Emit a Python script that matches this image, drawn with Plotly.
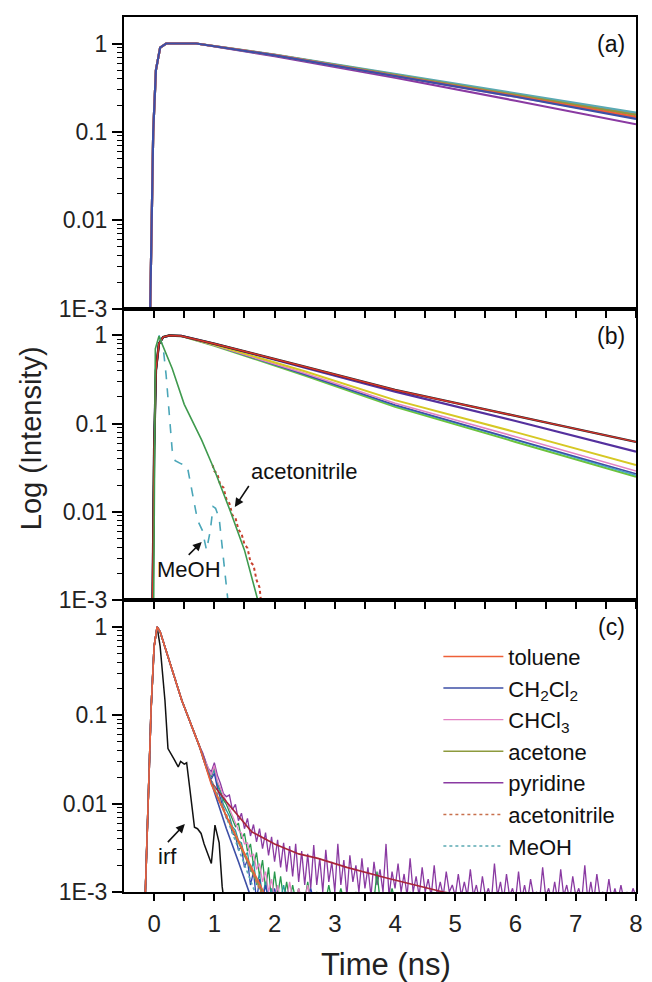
import plotly.graph_objects as go

FONT = "Liberation Sans, Arial, Helvetica, sans-serif"

# ---------------- legend / solvent info ----------------
SOLVENT_NAMES = ["toluene", "CH<sub>2</sub>Cl<sub>2</sub>", "CHCl<sub>3</sub>", "acetone",
                 "pyridine", "acetonitrile", "MeOH"]
SOLVENT_COLORS = ["#ee6038", "#3d4fa6", "#e283c4", "#8d9a3e", "#8a3aa2", "#c8704c", "#5aa9b2"]

# ---------------- panel (a) ----------------
T_A = [-0.08, -0.065, -0.04, -0.015, 0.03, 0.1, 0.2, 0.7, 2.0, 4.0, 6.0, 8.0]
A_TOLUENE = [0.0005, 0.001, 0.01, 0.1, 0.5, 0.9, 1.0, 1.0, 0.74, 0.43, 0.255, 0.148]
A_CH2CL2 = [0.0005, 0.001, 0.01, 0.1, 0.5, 0.9, 1.0, 1.0, 0.735, 0.425, 0.25, 0.14]
A_CHCL3 = [0.0005, 0.001, 0.01, 0.1, 0.5, 0.9, 1.0, 1.0, 0.74, 0.43, 0.25, 0.145]
A_ACETONE = [0.0005, 0.001, 0.01, 0.1, 0.5, 0.9, 1.0, 1.0, 0.745, 0.44, 0.26, 0.155]
A_PYRIDINE = [0.0005, 0.001, 0.01, 0.1, 0.5, 0.9, 1.0, 1.0, 0.72, 0.41, 0.225, 0.122]
A_ACETONITRILE = [0.0005, 0.001, 0.01, 0.1, 0.5, 0.9, 1.0, 1.0, 0.745, 0.445, 0.265, 0.16]
A_MEOH = [0.0005, 0.001, 0.01, 0.1, 0.5, 0.9, 1.0, 1.0, 0.75, 0.45, 0.27, 0.165]

# ---------------- panel (b) ----------------
T_B = [-0.03, -0.015, 0.0, 0.03, 0.08, 0.15, 0.25, 0.45, 1.0, 2.5, 4.0, 6.0, 8.0]
B_TOLUENE = [0.0005, 0.003, 0.05, 0.4, 0.8, 0.95, 0.99, 0.98, 0.8, 0.44, 0.24, 0.122, 0.062]
B_PYRIDINE = [0.0005, 0.003, 0.05, 0.4, 0.8, 0.95, 0.99, 0.98, 0.8, 0.43, 0.23, 0.107, 0.048]
B_ACETONE = [0.0005, 0.003, 0.05, 0.4, 0.8, 0.95, 0.99, 0.98, 0.78, 0.39, 0.184, 0.08, 0.034]
B_CHCL3 = [0.0005, 0.003, 0.05, 0.4, 0.8, 0.95, 0.99, 0.98, 0.77, 0.37, 0.17, 0.071, 0.029]
B_CH2CL2 = [0.0005, 0.003, 0.05, 0.4, 0.8, 0.95, 0.99, 0.98, 0.77, 0.36, 0.162, 0.066, 0.027]
B_DATA_GREEN = [0.0005, 0.003, 0.05, 0.4, 0.8, 0.95, 0.99, 0.98, 0.76, 0.35, 0.155, 0.062, 0.025]
B_DATA_TEAL = [0.0005, 0.003, 0.05, 0.4, 0.8, 0.95, 0.99, 0.98, 0.77, 0.36, 0.16, 0.065, 0.026]

T_B_FAST = [-0.01, 0.0, 0.005, 0.02, 0.08, 0.3, 0.5, 0.79, 1.0, 1.27, 1.5, 1.73, 1.76]
B_FAST_FIT = [0.0005, 0.01, 0.1, 0.7, 0.97, 0.42, 0.165, 0.065, 0.03, 0.01, 0.0037, 0.001, 0.0008]

T_B_ACN = [0.97, 1.0, 1.05, 1.1, 1.15, 1.2, 1.25, 1.3, 1.35, 1.4, 1.45, 1.5, 1.55, 1.6,
           1.65, 1.7, 1.75, 1.78]
B_ACN = [0.034, 0.029, 0.027, 0.020, 0.019, 0.014, 0.0125, 0.0092, 0.0086, 0.0063, 0.0057,
         0.0043, 0.0039, 0.0027, 0.0025, 0.0017, 0.0014, 0.0009]

T_B_MEOH = [0.08, 0.15, 0.2, 0.25, 0.3, 0.35, 0.45, 0.55, 0.62, 0.72, 0.8, 0.87, 0.93, 0.98,
            1.02, 1.08, 1.15, 1.24]
B_MEOH = [1.0, 0.73, 0.35, 0.12, 0.05, 0.038, 0.035, 0.033, 0.018, 0.0081, 0.0062, 0.0037,
          0.006, 0.0115, 0.011, 0.0085, 0.003, 0.0008]

# ---------------- panel (c) ----------------
T_C_EARLY = [-0.15, -0.1, -0.05, 0.0, 0.05, 0.1, 0.46, 0.75]
C_EARLY = [0.0008, 0.012, 0.12, 0.6, 1.0, 0.88, 0.147, 0.045]

T_C_TOL_TAIL = [0.95, 1.2, 1.5, 1.85]
C_TOL_TAIL = [0.0165, 0.0072, 0.0028, 0.0009]
T_C_CH2_TAIL = [0.95, 1.2, 1.4, 1.6]
C_CH2_TAIL = [0.0175, 0.0052, 0.0022, 0.0009]
T_C_ACE_TAIL = [0.95, 1.25, 1.55, 1.85]
C_ACE_TAIL = [0.0175, 0.006, 0.0022, 0.0008]
T_C_ACN_TAIL = [0.95, 1.2, 1.5, 1.8]
C_ACN_TAIL = [0.0185, 0.0075, 0.0027, 0.0009]
T_C_MEOH_TAIL = [0.95, 1.2, 1.45, 1.7]
C_MEOH_TAIL = [0.018, 0.007, 0.0025, 0.0009]

T_C_LONGFIT = [0.95, 1.2, 1.41, 1.62, 2.0, 2.4, 2.72, 3.2, 3.86, 4.8, 5.0]
C_LONGFIT = [0.0175, 0.0105, 0.0071, 0.0048, 0.0035, 0.0027, 0.0024, 0.0019, 0.00144, 0.001, 0.00095]

T_C_NOISE = [
    0.80, 0.85, 0.90, 0.95, 1.00, 1.05, 1.10, 1.15, 1.20, 1.25,
    1.30, 1.35, 1.40, 1.45, 1.50, 1.55, 1.60, 1.65, 1.70, 1.75,
    1.80, 1.85, 1.90, 1.95, 2.00, 2.05, 2.10, 2.15, 2.20, 2.25,
    2.30, 2.35, 2.40, 2.45, 2.50, 2.55, 2.60, 2.65, 2.70, 2.75,
    2.80, 2.85, 2.90, 2.95, 3.00, 3.05, 3.10, 3.15, 3.20, 3.25,
    3.30, 3.35, 3.40, 3.45, 3.50, 3.55, 3.60, 3.65, 3.70, 3.75,
    3.80, 3.85, 3.90, 3.95, 4.00, 4.05, 4.10, 4.15, 4.20, 4.25,
    4.30, 4.35, 4.40, 4.45, 4.50, 4.55, 4.60, 4.65, 4.70, 4.75,
    4.80, 4.85, 4.90, 4.95, 5.00, 5.05, 5.10, 5.15, 5.20, 5.25,
    5.30, 5.35, 5.40, 5.45, 5.50, 5.55, 5.60, 5.65, 5.70, 5.75,
    5.80, 5.85, 5.90, 5.95, 6.00, 6.05, 6.10, 6.15, 6.20, 6.25,
    6.30, 6.35, 6.40, 6.45, 6.50, 6.55, 6.60, 6.65, 6.70, 6.75,
    6.80, 6.85, 6.90, 6.95, 7.00, 7.05, 7.10, 7.15, 7.20, 7.25,
    7.30, 7.35, 7.40, 7.45, 7.50, 7.55, 7.60, 7.65, 7.70, 7.75,
    7.80, 7.85, 7.90, 7.95, 8.00]

C_PYR_NOISE = [
    0.038, 0.030, 0.025, 0.023, 0.029, 0.021, 0.017, 0.013, 0.012, 0.0125,
    0.0085, 0.0098, 0.0064, 0.0078, 0.0052, 0.0068, 0.0043, 0.0058, 0.0037, 0.0052,
    0.0031, 0.0047, 0.0026, 0.0042, 0.0022, 0.0039, 0.0019, 0.0036, 0.0017, 0.0033,
    0.0015, 0.0035, 0.0013, 0.0029, 0.0012, 0.0027, 0.0011, 0.0034, 0.0012, 0.0024,
    0.0010, 0.0030, 0.0013, 0.0022, 0.0010, 0.0035, 0.0012, 0.0023, 0.0009, 0.0026,
    0.0013, 0.0020, 0.0010, 0.0024, 0.0011, 0.0019, 0.0009, 0.0022, 0.0012, 0.0018,
    0.0010, 0.0035, 0.0009, 0.0017, 0.0011, 0.0021, 0.0010, 0.0016, 0.0009, 0.0024,
    0.0010, 0.0015, 0.0009, 0.0019, 0.0010, 0.0014, 0.0009, 0.0020, 0.0009, 0.0013,
    0.0009, 0.0017, 0.0010, 0.0012, 0.0009, 0.0016, 0.0009, 0.0013, 0.0009, 0.0018,
    0.0009, 0.0012, 0.0008, 0.0015, 0.0009, 0.0011, 0.0008, 0.0021, 0.0009, 0.0013,
    0.0008, 0.0016, 0.0009, 0.0011, 0.0008, 0.0017, 0.0008, 0.0012, 0.0008, 0.0014,
    0.0009, 0.0010, 0.0008, 0.0019, 0.0009, 0.0011, 0.0008, 0.0013, 0.0008, 0.0018,
    0.0009, 0.0012, 0.0008, 0.0015, 0.0009, 0.0011, 0.0008, 0.0020, 0.0008, 0.0013,
    0.0008, 0.0016, 0.0009, 0.0010, 0.0008, 0.0014, 0.0008, 0.0011, 0.0008, 0.0012,
    0.0008, 0.0010, 0.0008, 0.0011, 0.0009]

C_GREEN_NOISE = [
    0.036, 0.028, 0.024, 0.020, 0.025, 0.017, 0.014, 0.011, 0.0098, 0.0082,
    0.0068, 0.0055, 0.0060, 0.0040, 0.0046, 0.0029, 0.0035, 0.0020, 0.0028, 0.0015,
    0.0023, 0.0011, 0.0019, 0.0008, 0.0017, 0.0009, 0.0015, 0.0008, 0.0013, 0.0008,
    0.0012, 0.0008, 0.0011, 0.0008, 0.0008, 0.0013, 0.0008, 0.0008, 0.0010, 0.0008,
    0.0008, 0.0008, 0.0012, 0.0008, 0.0008, 0.0008, 0.0011, 0.0008, 0.0008, 0.0008,
    0.0008, 0.0010, 0.0008, 0.0008, 0.0008, 0.0008, 0.0008, 0.0008, 0.0017, 0.0008,
    0.0008, 0.0008, 0.0008, 0.0011, 0.0008, 0.0008, 0.0008, 0.0008, 0.0008, 0.0010,
    0.0008, 0.0008, 0.0008, 0.0008, 0.0008, 0.0008]

C_BLUE_NOISE = [
    0.034, 0.027, 0.022, 0.019, 0.022, 0.015, 0.0115, 0.0092, 0.0068, 0.0064,
    0.0046, 0.0043, 0.0030, 0.0032, 0.0019, 0.0023, 0.0012, 0.0017, 0.0008, 0.0014,
    0.0008, 0.0012, 0.0008, 0.0008, 0.0011, 0.0008, 0.0008, 0.0008, 0.0010, 0.0008,
    0.0008, 0.0008, 0.0008, 0.0008, 0.0008, 0.0008, 0.0011, 0.0008, 0.0008, 0.0008,
    0.0008, 0.0008, 0.0008, 0.0008, 0.0008]

C_PINK_NOISE = [
    0.037, 0.029, 0.025, 0.021, 0.027, 0.018, 0.015, 0.012, 0.0105, 0.0088,
    0.0072, 0.0062, 0.0050, 0.0046, 0.0035, 0.0036, 0.0025, 0.0027, 0.0018, 0.0021,
    0.0013, 0.0017, 0.0010, 0.0014, 0.0008, 0.0012, 0.0008, 0.0010, 0.0008, 0.0013,
    0.0008, 0.0008, 0.0011, 0.0008, 0.0008, 0.0012, 0.0008, 0.0008, 0.0008, 0.0008]

C_TEAL_NOISE = [
    0.035, 0.029, 0.023, 0.021, 0.024, 0.016, 0.0135, 0.0098, 0.0085, 0.0072,
    0.0055, 0.0050, 0.0038, 0.0036, 0.0025, 0.0028, 0.0017, 0.0022, 0.0012, 0.0016,
    0.0009, 0.0013, 0.0008, 0.0011, 0.0008, 0.0010, 0.0008, 0.0012, 0.0008, 0.0008,
    0.0010, 0.0008, 0.0008, 0.0009, 0.0008]

T_IRF = [-0.15, -0.1, -0.05, 0.0, 0.05, 0.1, 0.18, 0.23, 0.28, 0.34, 0.4, 0.44, 0.5, 0.54,
         0.59, 0.63, 0.67, 0.72, 0.78, 0.83, 0.88, 0.95, 1.01, 1.05, 1.08, 1.13, 1.16]
C_IRF = [0.0008, 0.012, 0.12, 0.6, 1.0, 0.6, 0.147, 0.042, 0.036, 0.031, 0.026, 0.03, 0.028,
         0.029, 0.0153, 0.009, 0.0054, 0.0052, 0.0046, 0.0035, 0.0028, 0.0021, 0.0057, 0.0045,
         0.0036, 0.00115, 0.0008]

# ---------------- axes ----------------
X_RANGE = [-0.5, 8]
X_TICKVALS = [0, 1, 2, 3, 4, 5, 6, 7, 8]
X_TICKTEXT = ["0", "1", "2", "3", "4", "5", "6", "7", "8"]
X_MINOR = [0.5, 1.5, 2.5, 3.5, 4.5, 5.5, 6.5, 7.5]
Y_RANGE_LOG = [-3, 0.3]
Y_TICKVALS = [0.001, 0.01, 0.1, 1]
Y_TICKTEXT = ["1E-3", "0.01", "0.1", "1"]
Y_MINOR = [0.002, 0.003, 0.004, 0.005, 0.006, 0.007, 0.008, 0.009,
           0.02, 0.03, 0.04, 0.05, 0.06, 0.07, 0.08, 0.09,
           0.2, 0.3, 0.4, 0.5, 0.6, 0.7, 0.8, 0.9]

PANEL_LABELS = ["(a)", "(b)", "(c)"]

# label annotations with arrows: text, axis, tip x, tip log10 y, tail dx px, tail dy px,
# text anchor (x, y) at the arrow tail
ARROW_LABELS = [
    ("acetonitrile", "2", 1.34, -1.944, 14, -21, "left", "bottom"),
    ("MeOH", "2", 0.79, -2.339, -13, 13, "center", "top"),
    ("irf", "3", 0.51, -2.232, -17, 18, "center", "top"),
]

fig = go.Figure()


def line(x, y, color, axis, width=1.6, dash="solid", name=None, legend=False, rank=None):
    fig.add_trace(go.Scatter(
        x=x, y=y, mode="lines", name=name if name else "",
        line=dict(color=color, width=width, dash=dash),
        xaxis="x" + axis, yaxis="y" + axis, showlegend=legend,
        legendrank=rank if rank else 1000, hoverinfo="skip"))


# panel (a): axis suffix "" -> x / y
A_SERIES = [A_PYRIDINE, A_ACETONITRILE, A_MEOH, A_ACETONE, A_CHCL3, A_TOLUENE, A_CH2CL2]
A_IDX = [4, 5, 6, 3, 2, 0, 1]
for vals, idx in zip(A_SERIES, A_IDX):
    line(T_A, vals, SOLVENT_COLORS[idx], "", width=2.2)

# panel (b)
line(T_B, B_DATA_GREEN, "#6cc33c", "2", width=2)
line(T_B, B_DATA_TEAL, "#44a8c4", "2", width=1.6)
line(T_B, B_CH2CL2, SOLVENT_COLORS[1], "2", width=1.6)
line(T_B, B_CHCL3, SOLVENT_COLORS[2], "2", width=1.6)
line(T_B, B_ACETONE, "#d6c824", "2", width=2)
line(T_B, B_PYRIDINE, "#54309e", "2", width=2.2)
line(T_B, B_TOLUENE, "#2a2a2a", "2", width=2.4)
line(T_B, B_TOLUENE, "#d8322a", "2", width=1.4)
line(T_B_MEOH, B_MEOH, "#4aa6b8", "2", width=1.6, dash="dash")
line(T_B_ACN, B_ACN, "#c8402e", "2", width=2, dash="dot")
line(T_B_FAST, B_FAST_FIT, "#3f9a4e", "2", width=1.6)

# panel (c)
line(T_IRF, C_IRF, "#111111", "3", width=1.5)
line(T_C_NOISE, C_PYR_NOISE, SOLVENT_COLORS[4], "3", width=1.3)
line(T_C_NOISE[:len(C_GREEN_NOISE)], C_GREEN_NOISE, "#27984c", "3", width=1.3)
line(T_C_NOISE[:len(C_TEAL_NOISE)], C_TEAL_NOISE, "#2a9a9a", "3", width=1.3)
line(T_C_NOISE[:len(C_BLUE_NOISE)], C_BLUE_NOISE, "#3044b0", "3", width=1.3)
line(T_C_EARLY + T_C_NOISE[:len(C_PINK_NOISE)], C_EARLY + C_PINK_NOISE, SOLVENT_COLORS[2],
     "3", width=1.3, name=SOLVENT_NAMES[2], legend=True, rank=3)
line(T_C_EARLY + T_C_LONGFIT, C_EARLY + C_LONGFIT, "#a8243a", "3", width=1.6)
line(T_C_EARLY + T_C_NOISE[:2], C_EARLY + C_PYR_NOISE[:2], SOLVENT_COLORS[4], "3",
     width=1.6, name=SOLVENT_NAMES[4], legend=True, rank=5)
line(T_C_EARLY + T_C_ACE_TAIL, C_EARLY + C_ACE_TAIL, SOLVENT_COLORS[3], "3", width=1.6,
     name=SOLVENT_NAMES[3], legend=True, rank=4)
line(T_C_EARLY + T_C_ACN_TAIL, C_EARLY + C_ACN_TAIL, SOLVENT_COLORS[5], "3", width=1.6,
     dash="dot", name=SOLVENT_NAMES[5], legend=True, rank=6)
line(T_C_EARLY + T_C_MEOH_TAIL, C_EARLY + C_MEOH_TAIL, SOLVENT_COLORS[6], "3", width=1.6,
     dash="dot", name=SOLVENT_NAMES[6], legend=True, rank=7)
line(T_C_EARLY + T_C_CH2_TAIL, C_EARLY + C_CH2_TAIL, SOLVENT_COLORS[1], "3", width=1.6,
     name=SOLVENT_NAMES[1], legend=True, rank=2)
line(T_C_EARLY + T_C_TOL_TAIL, C_EARLY + C_TOL_TAIL, SOLVENT_COLORS[0], "3", width=1.6,
     name=SOLVENT_NAMES[0], legend=True, rank=1)

# ---------------- layout ----------------
axis_line = dict(showline=True, linewidth=2, linecolor="black", mirror=True,
                 showgrid=False, zeroline=False)
tickfont = dict(family=FONT, size=23, color="#222222")

domains = [[2 / 3, 1.0], [1 / 3, 2 / 3], [0.0, 1 / 3]]
suffixes = ["", "2", "3"]
layout_axes = {}
for i, s in enumerate(suffixes):
    layout_axes["xaxis" + s] = dict(
        domain=[0, 1], anchor="y" + s, range=X_RANGE, tickmode="array",
        tickvals=X_TICKVALS, ticktext=X_TICKTEXT, ticks="outside", ticklen=7,
        tickwidth=1.6, tickcolor="black", showticklabels=(i == 2),
        tickfont=dict(family=FONT, size=24, color="#222222"), ticklabelstandoff=2,
        minor=dict(tickmode="array", tickvals=X_MINOR, ticks="outside", ticklen=7,
                   tickwidth=1.6, tickcolor="black", showgrid=False),
        **axis_line)
    layout_axes["yaxis" + s] = dict(
        domain=domains[i], anchor="x" + s, type="log", range=Y_RANGE_LOG,
        tickmode="array", tickvals=Y_TICKVALS, ticktext=Y_TICKTEXT, ticks="outside",
        ticklen=10, tickwidth=1.6, tickcolor="black", tickfont=tickfont,
        minor=dict(tickmode="array", tickvals=Y_MINOR, ticks="outside", ticklen=5,
                   tickwidth=1.4, tickcolor="black", showgrid=False),
        **axis_line)

annotations = []
for i, s in enumerate(suffixes):
    annotations.append(dict(
        text=PANEL_LABELS[i], xref=("x" + s + " domain"), yref=("y" + s + " domain"),
        x=0.952, y=0.908, showarrow=False, font=dict(family=FONT, size=23, color="#111111"),
        xanchor="center", yanchor="middle"))

for text, ax_s, x, ly, dx, dy, xa, ya in ARROW_LABELS:
    annotations.append(dict(text=text, xref="x" + ax_s, yref="y" + ax_s, x=x, y=ly,
                            ax=dx, ay=dy, showarrow=True, arrowhead=2, arrowsize=1.1,
                            arrowwidth=1.6, arrowcolor="#111111", xanchor=xa, yanchor=ya,
                            font=dict(family=FONT, size=22, color="#111111")))

annotations.append(dict(text="Log (Intensity)", xref="paper", yref="paper", x=-0.181,
                        y=0.519, textangle=-90, showarrow=False,
                        font=dict(family=FONT, size=29, color="#222222"),
                        xanchor="center", yanchor="middle"))
annotations.append(dict(text="Time (ns)", xref="paper", yref="paper", x=0.5125, y=-0.083,
                        showarrow=False, font=dict(family=FONT, size=31, color="#222222"),
                        xanchor="center", yanchor="middle"))

fig.update_layout(
    width=652, height=982,
    margin=dict(l=124, r=9, t=17, b=90),
    paper_bgcolor="white", plot_bgcolor="rgba(0,0,0,0)",
    font=dict(family=FONT, size=22, color="#111111"),
    showlegend=True,
    legend=dict(x=0.614, y=0.293, xanchor="left", yanchor="top", bgcolor="rgba(0,0,0,0)",
                borderwidth=0, font=dict(family=FONT, size=22, color="#111111"),
                itemwidth=60, tracegroupgap=0, traceorder="normal"),
    annotations=annotations,
    **layout_axes,
)

fig.write_html("out.html")
